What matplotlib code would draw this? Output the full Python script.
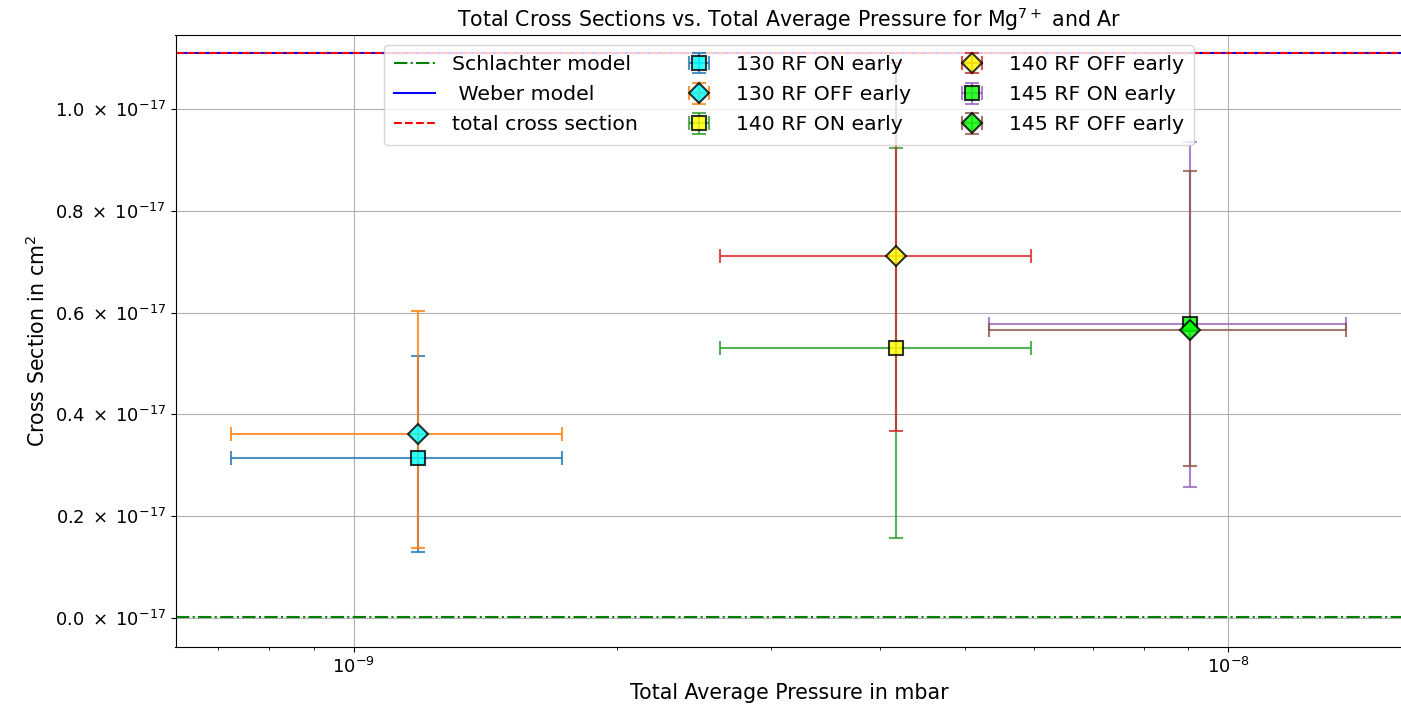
import numpy as np
import matplotlib
matplotlib.use("Agg")
import matplotlib.pyplot as plt
from matplotlib.ticker import FuncFormatter, NullFormatter

# ── Data ──────────────────────────────────────────────────────────────────────
labels = ["130 RF ON early", "130 RF OFF early", "140 RF ON early",
          "140 RF OFF early", "145 RF ON early", "145 RF OFF early"]
pressure = [1.183e-9, 1.183e-9, 4.17e-9, 4.17e-9, 9.04e-9, 9.04e-9]
p_lo = [7.23e-10, 7.23e-10, 2.62e-9, 2.62e-9, 5.33e-9, 5.33e-9]
p_hi = [1.729e-9, 1.729e-9, 5.95e-9, 5.95e-9, 1.361e-8, 1.361e-8]
sigma = [0.314e-17, 0.361e-17, 0.530e-17, 0.711e-17, 0.578e-17, 0.565e-17]
sigma_lo = [0.130e-17, 0.137e-17, 0.157e-17, 0.368e-17, 0.257e-17, 0.299e-17]
sigma_hi = [0.515e-17, 0.604e-17, 0.923e-17, 1.090e-17, 0.935e-17, 0.879e-17]

schlachter = 0.002e-17
weber = 1.1106e-17
total_cs = 1.1106e-17

markers = ["s", "D", "s", "D", "s", "D"]
faces = ["cyan", "cyan", "yellow", "yellow", "lime", "lime"]

# ── Plot ──────────────────────────────────────────────────────────────────────
W, H = 1401, 708
fig = plt.figure(figsize=(W / 100, H / 100), dpi=100)
ax = fig.add_axes([175.5 / W, 1 - 647.3 / H, (1402.5 - 175.5) / W, (647.3 - 35) / H])

ax.axhline(schlachter, color="green", linestyle="-.", label="Schlachter model")
ax.axhline(weber, color="blue", linestyle="-", label=" Weber model")
ax.axhline(total_cs, color="red", linestyle="--", label="total cross section")

for i, lab in enumerate(labels):
    x = pressure[i]
    y = sigma[i]
    xerr = [[x - p_lo[i]], [p_hi[i] - x]]
    yerr = [[y - sigma_lo[i]], [sigma_hi[i] - y]]
    ax.errorbar([x], [y], xerr=xerr, yerr=yerr, fmt=markers[i], color=f"C{i}",
                markerfacecolor=faces[i], markeredgecolor="black",
                markeredgewidth=1.5, markersize=10, capsize=5, alpha=0.8,
                label=lab, zorder=3)

ax.set_xscale("log")
ax.set_xlim(10 ** -9.2038, 10 ** -7.801)
ax.set_ylim(-0.0576e-17, 1.1454e-17)
ax.xaxis.set_minor_formatter(NullFormatter())
ax.yaxis.set_major_formatter(
    FuncFormatter(lambda v, _: rf"${abs(v) * 1e17:.1f}\;\times\;10^{{-17}}$"))

ax.tick_params(labelsize=13)
ax.grid(True)
ax.set_xlabel("Total Average Pressure in mbar", fontsize=14.8)
ax.set_ylabel("Cross Section in cm$^2$", fontsize=14.8)
ax.set_title("Total Cross Sections vs. Total Average Pressure for Mg$^{7+}$ and Ar",
             fontsize=14.8)
ax.legend(loc="upper center", ncol=3, fontsize=14.7, labelspacing=0.54,
          borderpad=0.5)

fig.savefig("out.png", dpi=100)
